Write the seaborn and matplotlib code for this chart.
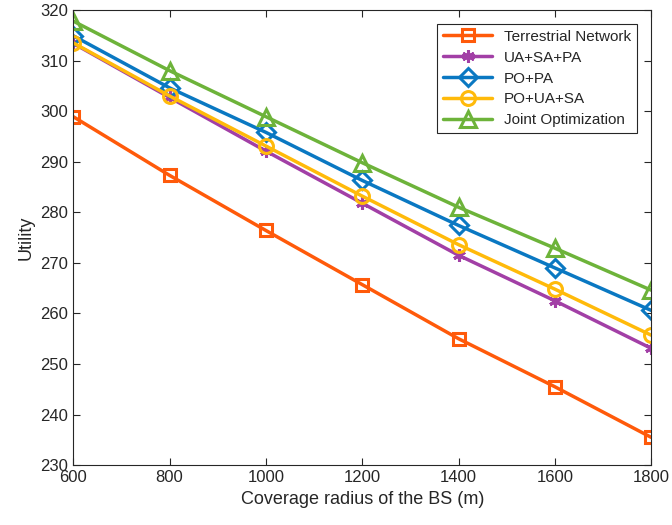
import pandas as pd
import matplotlib
matplotlib.use('Agg')
import matplotlib.pyplot as plt
import seaborn as sns

radius = [600, 800, 1000, 1200, 1400, 1600, 1800]
terrestrial = [298.9, 287.3, 276.4, 265.7, 255.0, 245.5, 235.5]
ua_sa_pa = [313.4, 302.7, 292.1, 281.8, 271.5, 262.5, 253.1]
po_pa = [314.9, 304.6, 295.8, 286.3, 277.4, 269.0, 260.6]
po_ua_sa = [313.5, 303.0, 293.1, 283.2, 273.6, 264.8, 255.7]
joint = [317.8, 308.0, 298.9, 289.8, 281.0, 272.9, 264.6]

names = ['Terrestrial Network', 'UA+SA+PA', 'PO+PA', 'PO+UA+SA', 'Joint Optimization']
series = [terrestrial, ua_sa_pa, po_pa, po_ua_sa, joint]
colors = ['#FF5A0A', '#A23FA6', '#0A78C2', '#FFBA0A', '#6DB33A']
markers = ['s', (6, 2, 0), 'D', 'o', '^']
msizes = [8, 9, 9, 10, 11]

sns.set_style('ticks')
plt.rcParams['font.family'] = ['Liberation Sans', 'DejaVu Sans']

fig = plt.figure(figsize=(6.72, 5.25), dpi=100)
ax = fig.add_axes([0.109, 0.114, 0.860, 0.867])

for name, vals, c, m, ms in zip(names, series, colors, markers, msizes):
    df = pd.DataFrame({'r': radius, 'u': vals})
    sns.lineplot(data=df, x='r', y='u', ax=ax, color=c, linewidth=2.5, marker=m,
                 markersize=ms, markerfacecolor='none', markeredgecolor=c,
                 markeredgewidth=2.2, label=name)

ax.set_xlim(600, 1800)
ax.set_ylim(230, 320)
ax.set_xticks(range(600, 1801, 200))
ax.set_yticks(range(230, 321, 10))
ax.tick_params(direction='in', top=True, right=True, labelsize=12, length=5, color='#262626')
for s in ax.spines.values():
    s.set_color('#262626')
    s.set_linewidth(0.8)
ax.set_xlabel('Coverage radius of the BS (m)', fontsize=13)
ax.set_ylabel('Utility', fontsize=13)
leg = ax.legend(loc='upper right', fontsize=11, frameon=True, fancybox=False,
                edgecolor='#262626', framealpha=1, handlelength=3.2,
                borderaxespad=0.9, labelspacing=0.45)
leg.get_frame().set_linewidth(0.8)

fig.savefig('out.png', dpi=100)
